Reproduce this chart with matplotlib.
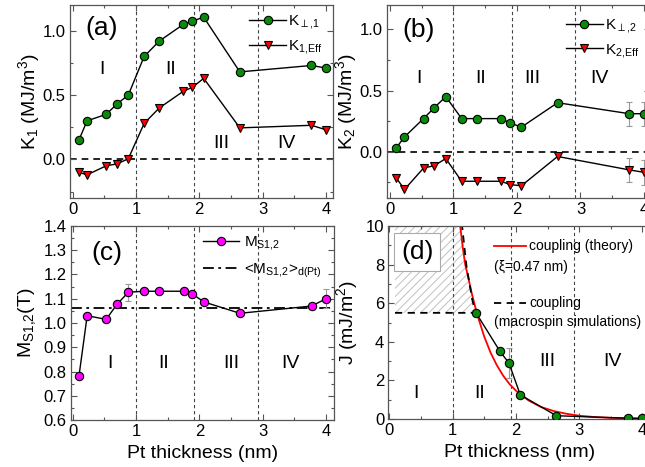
import matplotlib
matplotlib.use('Agg')
from matplotlib import pyplot as plt
from matplotlib.ticker import MultipleLocator
from matplotlib.lines import Line2D

plt.rcParams['font.family'] = ['Liberation Sans', 'DejaVu Sans']
plt.rcParams['mathtext.fontset'] = 'custom'
plt.rcParams['mathtext.rm'] = 'Liberation Sans'
plt.rcParams['mathtext.it'] = 'Liberation Sans:italic'
plt.rcParams['mathtext.default'] = 'regular'
plt.rcParams['hatch.linewidth'] = 0.7

# Pt thickness (nm) of the samples
thickness = [0.10, 0.23, 0.53, 0.70, 0.88, 1.13, 1.37, 1.75, 1.89, 2.07, 2.64, 3.77, 4.00]

# (a) anisotropy layer 1
k_perp1 = [0.15, 0.30, 0.35, 0.43, 0.50, 0.80, 0.92, 1.05, 1.075, 1.105, 0.68, 0.73, 0.71]
k_eff1 = [-0.10, -0.12, -0.05, -0.035, 0.005, 0.28, 0.40, 0.53, 0.56, 0.63, 0.245, 0.265, 0.23]

# (b) anisotropy layer 2
k_perp2 = [0.03, 0.12, 0.27, 0.36, 0.45, 0.27, 0.27, 0.27, 0.235, 0.20, 0.40, 0.31, 0.31]
k_eff2 = [-0.215, -0.31, -0.135, -0.115, -0.057, -0.243, -0.243, -0.243, -0.27, -0.28, -0.04, -0.15, -0.17]
k2_err = [0, 0, 0, 0, 0, 0, 0, 0, 0, 0, 0, 0.10, 0.10]

# (c) saturation magnetisation
ms12 = [0.78, 1.03, 1.015, 1.077, 1.127, 1.131, 1.131, 1.131, 1.12, 1.087, 1.04, 1.07, 1.10]
ms12_err = [0, 0, 0, 0, 0.035, 0, 0, 0, 0, 0, 0, 0, 0.04]
ms12_mean = 1.06

# (d) interlayer coupling
j_thick = thickness[6:]
j_cpl = [5.5, 3.5, 2.9, 1.25, 0.17, 0.04, 0.03]
j_err = [0, 0, 0.8, 0, 0, 0, 0]
theory_x = [1.12, 1.16, 1.20, 1.25, 1.30, 1.35, 1.40, 1.50, 1.60, 1.70, 1.80, 1.90,
            2.00, 2.20, 2.40, 2.60, 2.80, 3.00, 3.25, 3.50, 3.75, 4.00, 4.15]
theory_j = [10.0, 8.9, 8.0, 7.3, 6.55, 5.9, 5.3, 4.27, 3.44, 2.78, 2.24, 1.81,
            1.47, 0.96, 0.62, 0.41, 0.27, 0.17, 0.10, 0.06, 0.036, 0.021, 0.015]
sim_x = [0.09, 1.36, 1.31, 1.22, 1.15]
sim_j = [5.5, 5.5, 6.2, 7.9, 10.0]

region_bounds = [1.0, 1.92, 2.92]
regions = ['I', 'II', 'III', 'IV']

green = '#0a8a0a'
red = '#ff0000'
magenta = '#ff00ff'
spine_col = '#555555'


def style_axis(ax, xlim, ylim, ymaj, ymin):
    ax.set_xlim(*xlim)
    ax.set_ylim(*ylim)
    ax.xaxis.set_major_locator(MultipleLocator(1))
    ax.xaxis.set_minor_locator(MultipleLocator(0.5))
    ax.yaxis.set_major_locator(MultipleLocator(ymaj))
    ax.yaxis.set_minor_locator(MultipleLocator(ymin))
    ax.tick_params(which='both', direction='in', top=True, right=True,
                   color=spine_col, labelsize=12, pad=3)
    ax.tick_params(which='major', length=4, width=0.8)
    ax.tick_params(which='minor', length=2, width=0.8)
    for s in ax.spines.values():
        s.set_color(spine_col)
        s.set_linewidth(0.9)
    for xb in region_bounds:
        ax.axvline(xb, color='#444444', lw=0.8, ls=(0, (3, 2.5)), zorder=1)


def add_errbars(ax, x, y, err):
    for xi, yi, ei in zip(x, y, err):
        if ei > 0:
            ax.errorbar(xi, yi, yerr=ei, fmt='none', ecolor='#999999',
                        elinewidth=0.8, capsize=2.5, capthick=0.8, zorder=2)


fig = plt.figure(figsize=(6.45, 4.67), dpi=100)
ax_a = fig.add_axes([70 / 645, 1 - 198 / 467, 263 / 645, 193 / 467])
ax_b = fig.add_axes([386.7 / 645, 1 - 198 / 467, 263 / 645, 193 / 467])
ax_c = fig.add_axes([70.7 / 645, 1 - 420 / 467, 263 / 645, 194 / 467])
ax_d = fig.add_axes([388.3 / 645, 1 - 419 / 467, 263 / 645, 193 / 467])

mk = dict(markersize=6, markeredgecolor='black', markeredgewidth=0.8, lw=1.0, color='black', zorder=3)
leg_kw = dict(frameon=False, fontsize=11, handlelength=2.4, handletextpad=0.15, labelspacing=0.45)

# ---- (a)
style_axis(ax_a, (-0.04, 4.11), (-0.3, 1.2), 0.5, 0.25)
ax_a.axhline(0, color='black', lw=1.2, ls=(0, (4, 3)), zorder=1)
ax_a.plot(thickness, k_perp1, marker='o', markerfacecolor=green, label=r'K$_{\perp{,}1}$', **mk)
ax_a.plot(thickness, k_eff1, marker='v', markerfacecolor=red, label=r'K$_{1{,}\mathrm{Eff}}$', **mk)
ax_a.set_ylabel(r'K$_1$ (MJ/m$^3$)', fontsize=14)
ax_a.yaxis.set_label_coords(-0.105, 0.5)
ax_a.legend(loc='upper left', bbox_to_anchor=(0.63, 1.03), **leg_kw)
ax_a.text(0.06, 0.88, '(a)', transform=ax_a.transAxes, fontsize=19, ha='left', va='center')
for xr, yr, lab in zip([0.46, 1.55, 2.34, 3.37], [0.70, 0.70, 0.12, 0.12], regions):
    ax_a.text(xr, yr, lab, fontsize=14, ha='center', va='center')

# ---- (b)
style_axis(ax_b, (-0.05, 4.09), (-0.38, 1.2), 0.5, 0.25)
ax_b.axhline(0, color='black', lw=1.2, ls=(0, (4, 3)), zorder=1)
add_errbars(ax_b, thickness, k_perp2, k2_err)
add_errbars(ax_b, thickness, k_eff2, k2_err)
ax_b.plot(thickness, k_perp2, marker='o', markerfacecolor=green, label=r'K$_{\perp{,}2}$', **mk)
ax_b.plot(thickness, k_eff2, marker='v', markerfacecolor=red, label=r'K$_{2{,}\mathrm{Eff}}$', **mk)
ax_b.set_ylabel(r'K$_2$ (MJ/m$^3$)', fontsize=14)
ax_b.yaxis.set_label_coords(-0.105, 0.5)
ax_b.legend(loc='upper left', bbox_to_anchor=(0.63, 1.01), **leg_kw)
ax_b.text(0.06, 0.87, '(b)', transform=ax_b.transAxes, fontsize=19, ha='left', va='center')
for xr, lab in zip([0.45, 1.43, 2.24, 3.30], regions):
    ax_b.text(xr, 0.60, lab, fontsize=14, ha='center', va='center')

# ---- (c)
style_axis(ax_c, (-0.03, 4.12), (0.6, 1.4), 0.1, 0.05)
add_errbars(ax_c, thickness, ms12, ms12_err)
ax_c.plot(thickness, ms12, marker='o', markerfacecolor=magenta, label=r'M$_{S1{,}2}$', **mk)
ax_c.axhline(ms12_mean, color='black', lw=1.3, ls=(0, (6, 2.5, 1.5, 2.5)), zorder=1,
             label=r'<M$_{S1{,}2}$>$_{d(Pt)}$')
ax_c.set_ylabel(r'M$_{S1{,}2}$(T)', fontsize=14)
ax_c.yaxis.set_label_coords(-0.125, 0.5)
ax_c.set_xlabel('Pt thickness (nm)', fontsize=14, labelpad=4)
ax_c.legend(loc='upper left', bbox_to_anchor=(0.45, 1.03), frameon=False, fontsize=11,
            handlelength=2.4, handletextpad=0.3, labelspacing=0.65)
ax_c.text(0.08, 0.86, '(c)', transform=ax_c.transAxes, fontsize=19, ha='left', va='center')
for xr, lab in zip([0.59, 1.43, 2.50, 3.43], regions):
    ax_c.text(xr, 0.835, lab, fontsize=14, ha='center', va='center')

# ---- (d)
style_axis(ax_d, (-0.016, 4.14), (0, 10), 2, 1)
ax_d.fill(sim_x + [sim_x[0]], sim_j + [10.0], facecolor='none', edgecolor='#c0c0c0',
          hatch='////', lw=0, zorder=0)
ax_d.plot(theory_x, theory_j, color=red, lw=1.3, zorder=2)
ax_d.plot(sim_x, sim_j, color='black', lw=1.3, ls=(0, (4, 3)), zorder=2)
add_errbars(ax_d, j_thick, j_cpl, j_err)
ax_d.plot(j_thick, j_cpl, marker='o', markerfacecolor=green, **mk)
ax_d.set_ylabel(r'J (mJ/m$^2$)', fontsize=14)
ax_d.yaxis.set_label_coords(-0.108, 0.5)
ax_d.set_xlabel('Pt thickness (nm)', fontsize=14, labelpad=4)
ax_d.text(0.11, 0.865, '(d)', transform=ax_d.transAxes, fontsize=19, ha='center', va='center',
          bbox=dict(boxstyle='square,pad=0.25', fc='white', ec='#aaaaaa', lw=0.8), zorder=4)
for xr, yr, lab in zip([0.42, 1.43, 2.50, 3.53], [1.3, 1.3, 3.0, 3.0], regions):
    ax_d.text(xr, yr, lab, fontsize=14, ha='center', va='center')

# legend of (d), drawn by hand
tr = ax_d.transAxes
ax_d.add_line(Line2D([0.40, 0.525], [0.895, 0.895], transform=tr, color=red, lw=1.3))
ax_d.text(0.535, 0.895, 'coupling (theory)', transform=tr, fontsize=10, va='center')
ax_d.text(0.40, 0.785, '(ξ=0.47 nm)', transform=tr, fontsize=10, va='center')
ax_d.add_line(Line2D([0.40, 0.525], [0.60, 0.60], transform=tr, color='black', lw=1.3,
                     ls=(0, (4, 3))))
ax_d.text(0.535, 0.60, 'coupling', transform=tr, fontsize=10, va='center')
ax_d.text(0.40, 0.505, '(macrospin simulations)', transform=tr, fontsize=10, va='center')

fig.savefig('out.png', dpi=100)
